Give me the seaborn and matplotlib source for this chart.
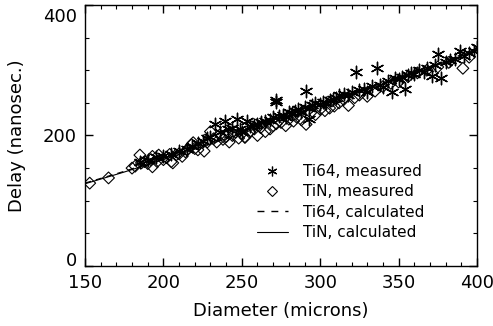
import numpy as np
import pandas as pd
import matplotlib
matplotlib.use("Agg")
import matplotlib.pyplot as plt
import matplotlib.transforms as mtransforms
from matplotlib.lines import Line2D
from matplotlib.ticker import MultipleLocator
import seaborn as sns

# TiN measured (open diamonds)
tin_diam = [153, 165, 180, 182, 185, 186, 188, 190, 192, 193, 193, 196, 197, 200, 202,
            204, 205, 206, 208, 210, 212, 214, 215, 218, 219, 220, 222, 226, 228, 230,
            232, 234, 236, 238, 240, 242, 244, 246, 248, 250, 252, 252, 255, 258, 260,
            262, 265, 268, 270, 272, 275, 278, 280, 283, 285, 288, 291, 294, 297, 300,
            303, 306, 309, 312, 315, 318, 322, 325, 330, 335, 340, 345, 350, 356, 362,
            368, 375, 382, 391, 395]
tin_delay = [127, 135, 150, 153, 170, 158, 160, 157, 163, 152, 168, 160, 170, 163, 166,
             171, 160, 158, 170, 172, 168, 175, 178, 186, 189, 180, 178, 176, 190, 206,
             195, 190, 201, 194, 198, 190, 200, 205, 196, 203, 197, 198, 205, 210, 200,
             212, 206, 210, 215, 218, 220, 215, 225, 222, 228, 224, 217, 235, 232, 240,
             238, 242, 245, 250, 255, 246, 258, 262, 260, 268, 275, 280, 282, 290, 296,
             300, 305, 312, 303, 320]

# Ti64 measured (asterisks)
ti64_diam = [185, 190, 195, 200, 205, 210, 215, 218, 222, 225, 228, 230, 233, 236, 239,
             241, 244, 247, 249, 250, 253, 255, 258, 260, 262, 265, 268, 270, 272, 272,
             274, 276, 278, 280, 282, 284, 286, 288, 290, 291, 293, 293, 295, 297, 300,
             302, 304, 306, 308, 310, 312, 315, 318, 320, 323, 325, 328, 330, 333, 336,
             338, 340, 343, 346, 348, 350, 352, 354, 356, 358, 360, 363, 366, 368, 371,
             373, 375, 377, 380, 383, 386, 389, 392, 395, 398, 400]
ti64_delay = [160, 162, 167, 168, 172, 176, 180, 184, 188, 192, 196, 198, 217, 205, 222,
              210, 212, 225, 210, 206, 222, 214, 216, 218, 220, 222, 224, 228, 251, 255,
              230, 232, 228, 236, 234, 238, 240, 236, 244, 268, 242, 225, 246, 250, 248,
              252, 250, 254, 256, 258, 262, 264, 262, 266, 297, 270, 272, 266, 276, 303,
              278, 274, 284, 266, 288, 286, 290, 271, 292, 296, 294, 300, 298, 304, 291,
              308, 325, 288, 312, 316, 318, 329, 322, 326, 330, 336]

# calculated curves
calc_diam = [150, 175, 200, 225, 250, 275, 300, 325, 350, 375, 400]
tin_calc = [126, 144, 163, 183, 203, 224, 245, 266, 287, 308, 331]
ti64_calc = [127, 145, 165, 185, 205, 226, 247, 268, 289, 310, 333]

sns.set_style("ticks", {'axes.edgecolor': 'black', 'text.color': 'black',
                        'axes.labelcolor': 'black', 'xtick.color': 'black',
                        'ytick.color': 'black'})
plt.rcParams['font.family'] = ['DejaVu Sans']

fig = plt.figure(figsize=(4.93, 3.26), dpi=100)
ax = fig.add_axes([85 / 493, 1 - 266 / 326, 392 / 493, 261 / 326])

df_tin = pd.DataFrame({'d': tin_diam, 't': tin_delay})
df_ti64 = pd.DataFrame({'d': ti64_diam, 't': ti64_delay})
df_calc = pd.DataFrame({'d': calc_diam, 'tin': tin_calc, 'ti64': ti64_calc})

sns.lineplot(data=df_calc, x='d', y='tin', ax=ax, color='black', lw=0.8)
sns.lineplot(data=df_calc, x='d', y='ti64', ax=ax, color='black', lw=0.9, linestyle=(0, (5, 4)))
sns.scatterplot(data=df_tin, x='d', y='t', ax=ax, marker='D', s=36,
                facecolor='none', edgecolor='black', linewidth=0.8)
sns.scatterplot(data=df_ti64, x='d', y='t', ax=ax, marker=(6, 2, 0), s=80,
                color='black', linewidth=1.0)

ax.set_xlim(150, 400)
ax.set_ylim(0, 400)
ax.xaxis.set_major_locator(MultipleLocator(50))
ax.xaxis.set_minor_locator(MultipleLocator(10))
ax.yaxis.set_major_locator(MultipleLocator(200))
ax.yaxis.set_minor_locator(MultipleLocator(50))
ax.tick_params(which='both', direction='in', top=True, right=True, labelsize=13, pad=6,
               colors='black')
ax.tick_params(which='major', length=6, width=1)
ax.tick_params(which='minor', length=3, width=0.8)
for s in ax.spines.values():
    s.set_linewidth(1.0)
    s.set_color('black')
    s.set_visible(True)

# nudge the end y labels inward like the original
fig.canvas.draw()
shifts = {'0': 7, '200': 0, '400': -10}
for lab in ax.get_yticklabels():
    dy = shifts.get(lab.get_text(), 0)
    lab.set_transform(lab.get_transform() + mtransforms.ScaledTranslation(0, dy / 100, fig.dpi_scale_trans))

ax.set_xlabel('Diameter (microns)', fontsize=13, labelpad=7, color='black')
ax.set_ylabel('Delay (nanosec.)', fontsize=13, labelpad=12, color='black')

handles = [
    Line2D([], [], marker=(6, 2, 0), color='black', lw=0, markersize=7, markeredgewidth=0.9),
    Line2D([], [], marker='D', color='black', lw=0, markerfacecolor='none', markersize=5, markeredgewidth=0.8),
    Line2D([], [], color='black', lw=1.0, linestyle=(0, (5, 5))),
    Line2D([], [], color='black', lw=0.8),
]
labels = ['Ti64, measured', 'TiN, measured', 'Ti64, calculated', 'TiN, calculated']
fig.legend(handles, labels, loc='upper left', bbox_to_anchor=(257 / 493, 1 - 164 / 326),
           frameon=False, fontsize=11, handlelength=2.0, handletextpad=1.0,
           labelspacing=0.35, borderpad=0, borderaxespad=0, labelcolor='black')

fig.savefig('out.png', dpi=100)
